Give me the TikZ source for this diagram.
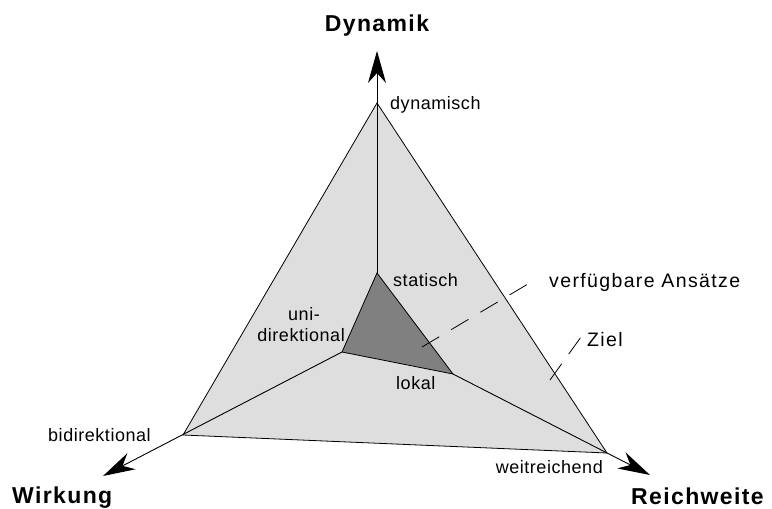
\documentclass[tikz,border=0pt]{standalone}
\usepackage{fontspec}
\setmainfont{Liberation Sans}[LetterSpace=3]
\usetikzlibrary{arrows.meta}
\definecolor{outerfill}{HTML}{DEDEDE}
\definecolor{innerfill}{HTML}{808080}
\tikzset{
  lbl/.style={inner sep=0pt, font=\fontsize{18}{20}\selectfont},
  widelbl/.style={inner sep=0pt, font=\fontsize{19.5}{22}\selectfont\addfontfeatures{LetterSpace=7}},
  axlbl/.style={inner sep=0pt, font=\fontsize{23}{26}\selectfont\bfseries\addfontfeatures{LetterSpace=6}},
  axis/.style={line width=0.9pt, -{Stealth[length=32pt,width=18pt,inset=10pt]}},
  edge/.style={line width=0.8pt},
  leader/.style={line width=0.8pt, dash pattern=on 20pt off 14pt}
}
\begin{document}
\begin{tikzpicture}[x=1pt,y=-1pt]
\useasboundingbox (0,0) rectangle (772,509);
% points
\coordinate (T) at (377,103);
\coordinate (L) at (183,435);
\coordinate (R) at (607,453);
\coordinate (S) at (377,273);
\coordinate (U) at (342,352);
\coordinate (K) at (453,374);
\coordinate (TT) at (377,51);
\coordinate (LT) at (103,476);
\coordinate (RT) at (650,475);
% triangles
\draw[edge, fill=outerfill] (T) -- (L) -- (R) -- cycle;
\draw[edge, fill=innerfill] (S) -- (U) -- (K) -- cycle;
% axes
\draw[axis] (S) -- (TT);
\draw[axis] (U) -- (LT);
\draw[axis] (K) -- (RT);
% leaders
\coordinate (A1) at (422,347);
\coordinate (A2) at (538,278);
\coordinate (Z1) at (550,380);
\coordinate (Z2) at (581,337);
\draw[leader] (A1) -- (A2);
\draw[leader, dash pattern=on 20pt off 12pt] (Z1) -- (Z2);
% labels
\node[axlbl, anchor=base] (dyn) at (377,31) {Dynamik};
\node[axlbl, anchor=base west] (wir) at (12,503) {Wirkung};
\node[axlbl, anchor=base west] (rei) at (631,504) {Reichweite};
\node[lbl, anchor=base west] (dyna) at (390,109) {dynamisch};
\node[lbl, anchor=base west] (stat) at (393,286) {statisch};
\node[lbl, anchor=base] (uni) at (304,320) {uni-};
\node[lbl, anchor=base east] (dir) at (345,341) {direktional};
\node[lbl, anchor=base west] (lok) at (396,389) {lokal};
\node[lbl, anchor=base west] (bid) at (48,441) {bidirektional};
\node[lbl, anchor=base east] (wei) at (603,473) {weitreichend};
\node[widelbl, anchor=base west] (ans) at (549,287) {verfügbare Ansätze};
\node[widelbl, anchor=base west] (zie) at (587,346) {Ziel};
\end{tikzpicture}
\end{document}
